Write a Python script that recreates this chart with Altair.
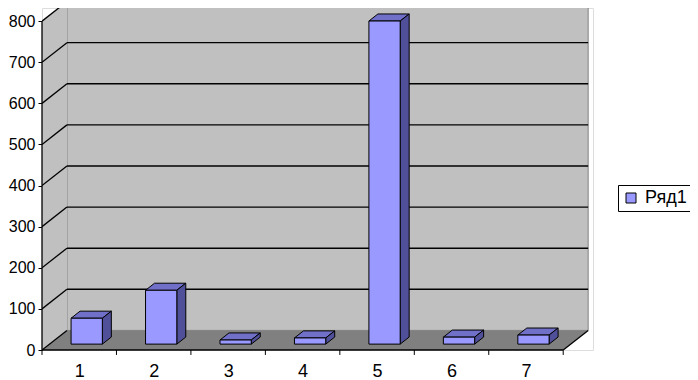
import json
import altair as alt
import pandas as pd

# ---- data ----
categories = ["1", "2", "3", "4", "5", "6", "7"]
values = [63, 131, 10, 15, 786, 17, 22]
y_ticks = [0, 100, 200, 300, 400, 500, 600, 700, 800]
series = "Ряд1"

# ---- 3D geometry (in scale units) ----
N = len(categories)
YMAX = y_ticks[-1]
DX = 0.335      # wall depth along x (category units)
DY = 47.7       # wall depth along y (value units)
BAR_W = 0.42
F0 = 0.30       # bar front plane (fraction of depth)
FD = 0.36       # bar depth (fraction of depth)
TICK = 12       # x tick length (value units)

FONT = "Liberation Sans"
FRONT = "#9999FF"
TOP = "#7070C8"
SIDE = "#50509A"
WALL = "#C0C0C0"
FLOOR = "#808080"

xs = alt.Scale(domain=[0, 7.4], nice=False, zero=False)
ys = alt.Scale(domain=[0, 832], nice=False, zero=False)

xaxis = alt.Axis(values=[i + 0.5 for i in range(N)],
                 labelExpr=f"{json.dumps(categories)}[floor(datum.value)]",
                 ticks=False, tickSize=0, domain=False, grid=False,
                 labelPadding=12, labelFontSize=18, labelFont=FONT,
                 labelColor="black", labelFlush=False, labelAngle=0, title=None)
yaxis = alt.Axis(values=y_ticks, ticks=True, tickSize=4, tickColor="black",
                 tickWidth=1, domain=False, grid=False, labelPadding=3,
                 labelFontSize=16, labelFont=FONT, labelColor="black",
                 labelFlush=False, format="d", title=None)


def X(f="x"):
    return alt.X(f"{f}:Q", scale=xs, axis=xaxis, stack=False)


def Y(f="y"):
    return alt.Y(f"{f}:Q", scale=ys, axis=yaxis, stack=False)


# walls and floor
wall_df = pd.DataFrame({"x": [DX], "x2": [N + DX], "y": [DY], "y2": [YMAX + DY]})
left_df = pd.DataFrame({"x": [0, DX], "y": [0, DY], "y2": [YMAX, YMAX + DY]})
floor_df = pd.DataFrame({"y": [0, DY], "x": [0, DX], "x2": [N, N + DX]})
grid_df = pd.DataFrame({"y": [t + DY for t in y_ticks if t > 0],
                        "x": DX, "x2": N + DX})
diag_rows = []
for t in y_ticks:
    diag_rows += [{"k": str(t), "x": 0, "y": t}, {"k": str(t), "x": DX, "y": t + DY}]
diag_rows += [{"k": "r", "x": N, "y": 0}, {"k": "r", "x": N + DX, "y": DY}]
diag_df = pd.DataFrame(diag_rows)
yline_df = pd.DataFrame({"x": [0], "y": [0], "y2": [YMAX]})
xline_df = pd.DataFrame({"x": [0], "x2": [N], "y": [0]})
xtick_df = pd.DataFrame({"x": list(range(N + 1)), "y": 0, "y2": -TICK})

# bars
front_rows, top_rows, side_rows = [], [], []
base = F0 * DY
bdx, bdy = FD * DX, FD * DY
for i, (c, v) in enumerate(zip(categories, values)):
    x0 = i + 0.5 - BAR_W / 2 + F0 * DX
    x1 = x0 + BAR_W
    front_rows.append({"cat": c, "series": series, "x": x0, "x2": x1,
                       "y": base, "y2": base + v})
    top_rows += [{"cat": c, "y": base + v, "x": x0, "x2": x1},
                 {"cat": c, "y": base + v + bdy, "x": x0 + bdx, "x2": x1 + bdx}]
    side_rows += [{"cat": c, "x": x1, "y": base, "y2": base + v},
                  {"cat": c, "x": x1 + bdx, "y": base + bdy, "y2": base + v + bdy}]
front_df = pd.DataFrame(front_rows)
top_df = pd.DataFrame(top_rows)
side_df = pd.DataFrame(side_rows)

wall = alt.Chart(wall_df).mark_rect(fill=WALL, stroke="#808080", strokeWidth=1, clip=True).encode(
    x=X(), x2="x2:Q", y=Y(), y2="y2:Q")
left = alt.Chart(left_df).mark_area(fill=WALL, clip=True, orient="vertical").encode(
    x=X(), y=Y(), y2="y2:Q")
floor = alt.Chart(floor_df).mark_area(fill=FLOOR, orient="horizontal").encode(
    y=Y(), x=X(), x2="x2:Q")
grid = alt.Chart(grid_df).mark_rule(color="black", strokeWidth=1.4, clip=True).encode(
    y=Y(), x=X(), x2="x2:Q")
diag = alt.Chart(diag_df).mark_line(color="black", strokeWidth=1.3, clip=True).encode(
    x=X(), y=Y(), detail="k:N")
yline = alt.Chart(yline_df).mark_rule(color="black", strokeWidth=1.3).encode(
    x=X(), y=Y(), y2="y2:Q")
xline = alt.Chart(xline_df).mark_rule(color="black", strokeWidth=1.3).encode(
    x=X(), x2="x2:Q", y=Y())
xticks = alt.Chart(xtick_df).mark_rule(color="black", strokeWidth=1).encode(
    x=X(), y=Y(), y2="y2:Q")
tops = alt.Chart(top_df).mark_area(fill=TOP, stroke="black", strokeWidth=1, orient="horizontal").encode(
    y=Y(), x=X(), x2="x2:Q", detail="cat:N")
sides = alt.Chart(side_df).mark_area(fill=SIDE, stroke="black", strokeWidth=1, orient="vertical").encode(
    x=X(), y=Y(), y2="y2:Q", detail="cat:N")
fronts = alt.Chart(front_df).mark_rect(stroke="black", strokeWidth=1).encode(
    x=X(), x2="x2:Q", y=Y(), y2="y2:Q",
    color=alt.Color("series:N",
                    scale=alt.Scale(domain=[series], range=[FRONT]),
                    legend=alt.Legend(orient="none", legendX=576, legendY=177,
                                      title=None, symbolType="square", symbolSize=100,
                                      symbolStrokeColor="black", symbolStrokeWidth=1,
                                      labelFontSize=18, labelFont=FONT, labelColor="black",
                                      labelOffset=5, padding=4, strokeColor="black",
                                      fillColor="white", cornerRadius=0)))

chart = alt.layer(wall, left, floor, grid, diag, yline, xline, xticks, tops, sides, fronts).properties(
    width=551, height=342,
    padding={"left": 34, "top": 0, "right": 97, "bottom": 30},
    autosize=alt.AutoSizeParams(type="none"),
    background="white",
).configure_view(stroke="transparent").configure(font=FONT)

chart.save("out.html", embed_options={"renderer": "svg", "actions": False})
